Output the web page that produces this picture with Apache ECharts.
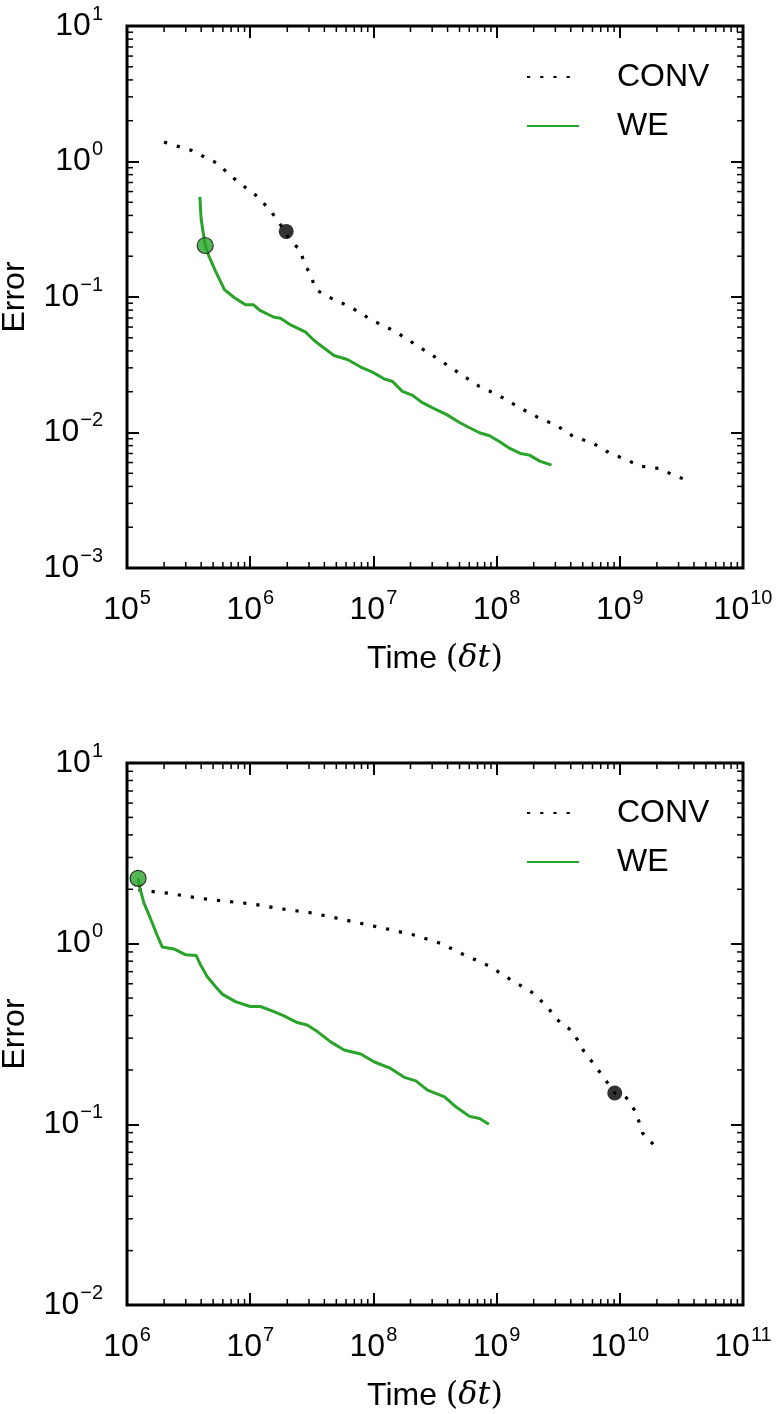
<!DOCTYPE html>
<html><head><meta charset="utf-8">
<script src="https://cdn.jsdelivr.net/npm/echarts@6/dist/echarts.min.js"></script>
<style>html,body{margin:0;padding:0;background:#fff}#c{width:777px;height:1414px}</style>
</head><body><div id="c"></div>
<script>
// ---------- data ----------
// Top panel
const topConvX = [2.0e5, 3.31e5, 5.32e5, 7.83e5, 1.19e6, 1.64e6, 2.15e6, 2.55e6, 2.75e6, 3.13e6, 3.36e6, 4.15e6, 6.53e6, 9.86e6, 1.51e7, 2.21e7, 3.33e7, 4.94e7, 7.18e7, 1.04e8, 1.52e8, 2.13e8, 3.11e8, 4.23e8, 6.00e8, 8.19e8, 1.10e9, 1.47e9, 2.06e9, 2.75e9, 3.52e9];
const topConvY = [1.39, 1.21, 0.977, 0.716, 0.537, 0.379, 0.255, 0.223, 0.176, 0.1436, 0.1145, 0.1017, 0.0843, 0.0670, 0.0556, 0.0444, 0.0350, 0.0275, 0.0220, 0.0188, 0.01534, 0.01303, 0.01119, 0.00929, 0.00839, 0.00709, 0.00637, 0.00565, 0.00543, 0.00485, 0.00443];
const topWeX = [3.90e5, 4.00e5, 4.31e5, 4.61e5, 5.22e5, 6.18e5, 7.36e5, 9.15e5, 1.06e6, 1.20e6, 1.56e6, 1.76e6, 2.13e6, 2.82e6, 3.30e6, 3.97e6, 4.79e6, 6.15e6, 7.89e6, 9.82e6, 1.22e7, 1.43e7, 1.72e7, 2.08e7, 2.50e7, 3.11e7, 3.94e7, 5.00e7, 6.03e7, 7.27e7, 8.77e7, 1.06e8, 1.28e8, 1.56e8, 1.85e8, 2.24e8, 2.79e8];
const topWeY = [0.549, 0.375, 0.240, 0.2014, 0.156, 0.1132, 0.0996, 0.0877, 0.0877, 0.0797, 0.0709, 0.0697, 0.0622, 0.0550, 0.0477, 0.0420, 0.0370, 0.0346, 0.0304, 0.0279, 0.0249, 0.0238, 0.0201, 0.0188, 0.0166, 0.0150, 0.01355, 0.01186, 0.01084, 0.00996, 0.00946, 0.00855, 0.00763, 0.00701, 0.00681, 0.00615, 0.00575];
const topConvMarkX = [1.96e6], topConvMarkY = [0.305];
const topWeMarkX = [4.31e5], topWeMarkY = [0.240];

// Bottom panel
const botConvX = [1.24e6, 1.32e6, 2.21e6, 3.71e6, 6.22e6, 1.04e7, 1.76e7, 2.96e7, 4.93e7, 8.14e7, 1.34e8, 2.21e8, 3.55e8, 5.57e8, 8.61e8, 1.28e9, 1.92e9, 2.61e9, 2.96e9, 3.46e9, 4.12e9, 5.09e9, 6.47e9, 8.04e9, 9.10e9, 1.11e10, 1.35e10, 1.53e10, 1.93e10];
const botConvY = [1.99, 1.97, 1.90, 1.79, 1.72, 1.66, 1.56, 1.49, 1.39, 1.29, 1.20, 1.11, 1.00, 0.861, 0.755, 0.637, 0.540, 0.445, 0.392, 0.355, 0.329, 0.255, 0.206, 0.168, 0.149, 0.143, 0.117, 0.0895, 0.0757];
const botWeX = [1.23e6, 1.27e6, 1.37e6, 1.53e6, 1.75e6, 1.93e6, 2.40e6, 2.98e6, 3.64e6, 3.95e6, 4.47e6, 5.22e6, 5.92e6, 7.59e6, 1.00e7, 1.21e7, 1.56e7, 1.88e7, 2.41e7, 2.90e7, 3.51e7, 4.50e7, 5.78e7, 7.89e7, 1.01e8, 1.38e8, 1.78e8, 2.21e8, 2.75e8, 3.78e8, 4.70e8, 6.03e8, 7.28e8, 8.65e8];
const botWeY = [2.30, 2.04, 1.68, 1.41, 1.12, 0.959, 0.935, 0.869, 0.861, 0.764, 0.658, 0.579, 0.526, 0.478, 0.449, 0.449, 0.421, 0.398, 0.366, 0.355, 0.326, 0.286, 0.258, 0.245, 0.222, 0.204, 0.182, 0.174, 0.1545, 0.142, 0.1247, 0.1107, 0.1076, 0.100];
const botConvMarkX = [9.10e9], botConvMarkY = [0.149];
const botWeMarkX = [1.23e6], botWeMarkY = [2.30];

// Tick labels (powers of ten)
const topXExps = [5, 6, 7, 8, 9, 10];
const topYExps = [-3, -2, -1, 0, 1];
const botXExps = [6, 7, 8, 9, 10, 11];
const botYExps = [-2, -1, 0, 1];

const seriesNames = ['CONV', 'WE'];
const xTitle = 'Time';
const yTitle = 'Error';

// ---------- styling ----------
const FONT = '"Liberation Sans", Arial, Helvetica, sans-serif';
const SERIF = '"DejaVu Serif", "Liberation Serif", serif';
const GREEN = '#2aa32a';
const BLACK = '#000';

function zip(xs, ys) { return xs.map((x, i) => [x, ys[i]]); }
function minorValues(exps) {        // 2..9 x 10^e tick positions (real values)
  const out = [];
  for (let i = 0; i < exps.length - 1; i++)
    for (let k = 2; k <= 9; k++) out.push(k * Math.pow(10, exps[i]));
  return out;
}
function supLabel(v) {
  const e = Math.round(v);
  return '{b|10}{s|' + (e < 0 ? '\u2212' + (-e) : e) + '}';
}
const richLbl = {
  b: { fontSize: 32, lineHeight: 44, fontFamily: FONT, color: BLACK },
  s: { fontSize: 20, lineHeight: 20, fontFamily: FONT, color: BLACK, verticalAlign: 'top', padding: [0, 0, 0, 1] }
};

function axesFor(dim, g, exps) {
  const lo = exps[0], hi = exps[exps.length - 1];
  const isX = dim === 'x';
  const posA = isX ? 'bottom' : 'left', posB = isX ? 'top' : 'right';
  const base = {
    type: 'value', gridIndex: g, min: lo, max: hi,
    axisLine: { show: false, onZero: false },
    splitLine: { show: false },
    silent: true
  };
  const majorTick = { show: true, inside: true, length: 12, customValues: exps, lineStyle: { color: BLACK, width: 2 } };
  const list = [];
  // data axis (log scale) that positions every mark
  list.push({ type: 'log', logBase: 10, gridIndex: g, min: Math.pow(10, lo), max: Math.pow(10, hi),
              show: false, axisLine: { onZero: false }, splitLine: { show: false } });
  // labelled major axis (exponent space, same extent)
  const lab = Object.assign({}, base, {
    position: posA,
    axisTick: majorTick,
    nameMoveOverlap: false,
    axisLabel: { show: true, customValues: exps, formatter: supLabel, rich: richLbl, margin: isX ? 20 : 24 }
  });
  if (isX) {
    lab.name = '{t|' + xTitle + ' }{p|(}{d|\u03b4t}{p|)}';
    lab.nameLocation = 'middle';
    lab.nameGap = 71;
    lab.nameTextStyle = { rich: {
      t: { fontSize: 32, fontFamily: FONT, color: BLACK, lineHeight: 40 },
      p: { fontSize: 32, fontFamily: SERIF, color: BLACK, lineHeight: 40 },
      d: { fontSize: 32, fontFamily: SERIF, fontStyle: 'italic', color: BLACK, lineHeight: 40 }
    } };
  } else {
    lab.name = yTitle;
    lab.nameLocation = 'middle';
    lab.nameGap = 96;
    lab.nameTextStyle = { fontSize: 32, fontFamily: FONT, color: BLACK };
  }
  list.push(lab);
  list.push(Object.assign({}, base, { position: posB, axisLabel: { show: false }, axisTick: majorTick }));
  return list;
}

const AX_PER_GRID = 3;
const xAxes = [].concat(axesFor('x', 0, topXExps), axesFor('x', 1, botXExps));
const yAxes = [].concat(axesFor('y', 0, topYExps), axesFor('y', 1, botYExps));

// minor ticks drawn on all four sides through the log axes of the grid
function minorTickSeries(g, xExps, yExps) {
  const ax = g * AX_PER_GRID;
  const xMin = Math.pow(10, xExps[0]), yMin = Math.pow(10, yExps[0]);
  const data = [];
  minorValues(xExps).forEach(v => data.push([v, yMin, 0]));
  minorValues(yExps).forEach(v => data.push([xMin, v, 1]));
  return {
    type: 'custom', name: 'minorTicks' + g, xAxisIndex: ax, yAxisIndex: ax, silent: true, z: 4,
    clip: false, data: data,
    renderItem: function (params, api) {
      const cs = params.coordSys;
      const p = api.coord([api.value(0), api.value(1)]);
      const L = 6, st = { stroke: BLACK, lineWidth: 1.5 };
      if (api.value(2) === 0) {
        return { type: 'group', children: [
          { type: 'line', shape: { x1: p[0], y1: cs.y + cs.height, x2: p[0], y2: cs.y + cs.height - L }, style: st },
          { type: 'line', shape: { x1: p[0], y1: cs.y, x2: p[0], y2: cs.y + L }, style: st }
        ] };
      }
      return { type: 'group', children: [
        { type: 'line', shape: { x1: cs.x, y1: p[1], x2: cs.x + L, y2: p[1] }, style: st },
        { type: 'line', shape: { x1: cs.x + cs.width, y1: p[1], x2: cs.x + cs.width - L, y2: p[1] }, style: st }
      ] };
    }
  };
}

function panelSeries(g, convX, convY, weX, weY, cmx, cmy, wmx, wmy) {
  const ax = g * AX_PER_GRID;
  return [
    { name: seriesNames[0], type: 'line', xAxisIndex: ax, yAxisIndex: ax, data: zip(convX, convY),
      showSymbol: false, symbol: 'none', smooth: false, z: 3,
      lineStyle: { color: BLACK, width: 3.2, type: [3.2, 10], cap: 'butt' }, itemStyle: { color: BLACK } },
    { name: seriesNames[1], type: 'line', xAxisIndex: ax, yAxisIndex: ax, data: zip(weX, weY),
      showSymbol: false, symbol: 'none', smooth: false, z: 3,
      lineStyle: { color: GREEN, width: 3 }, itemStyle: { color: GREEN } },
    { name: 'convMark', type: 'scatter', xAxisIndex: ax, yAxisIndex: ax, data: zip(cmx, cmy),
      symbol: 'circle', symbolSize: 15, z: 5, itemStyle: { color: BLACK } },
    { name: 'weMark', type: 'scatter', xAxisIndex: ax, yAxisIndex: ax, data: zip(wmx, wmy),
      symbol: 'circle', symbolSize: 16, z: 5, itemStyle: { color: GREEN, borderColor: '#111', borderWidth: 1.2 } }
  ];
}

const legendCommon = {
  orient: 'vertical', data: seriesNames, itemWidth: 52, itemHeight: 14, itemGap: 17,
  selectedMode: false,
  itemStyle: { color: 'rgba(0,0,0,0)', borderColor: 'rgba(0,0,0,0)', borderWidth: 0 },
  textStyle: { fontSize: 32, fontFamily: FONT, color: BLACK, lineHeight: 32, padding: [0, 0, 0, 33] }
};

const gridCommon = { left: 127, width: 616, height: 542, show: true, borderColor: BLACK, borderWidth: 3,
  backgroundColor: 'transparent', containLabel: false, outerBoundsMode: 'none' };

const option = {
  animation: false,
  backgroundColor: '#fff',
  grid: [
    Object.assign({}, gridCommon, { top: 26 }),
    Object.assign({}, gridCommon, { top: 763 })
  ],
  legend: [
    Object.assign({}, legendCommon, { left: 521, top: 56 }),
    Object.assign({}, legendCommon, { left: 521, top: 792 })
  ],
  xAxis: xAxes,
  yAxis: yAxes,
  series: [].concat(
    panelSeries(0, topConvX, topConvY, topWeX, topWeY, topConvMarkX, topConvMarkY, topWeMarkX, topWeMarkY),
    panelSeries(1, botConvX, botConvY, botWeX, botWeY, botConvMarkX, botConvMarkY, botWeMarkX, botWeMarkY),
    [minorTickSeries(0, topXExps, topYExps), minorTickSeries(1, botXExps, botYExps)]
  )
};

const chart = echarts.init(document.getElementById('c'), null, { renderer: 'canvas' });
chart.setOption(option);
</script>
</body></html>
